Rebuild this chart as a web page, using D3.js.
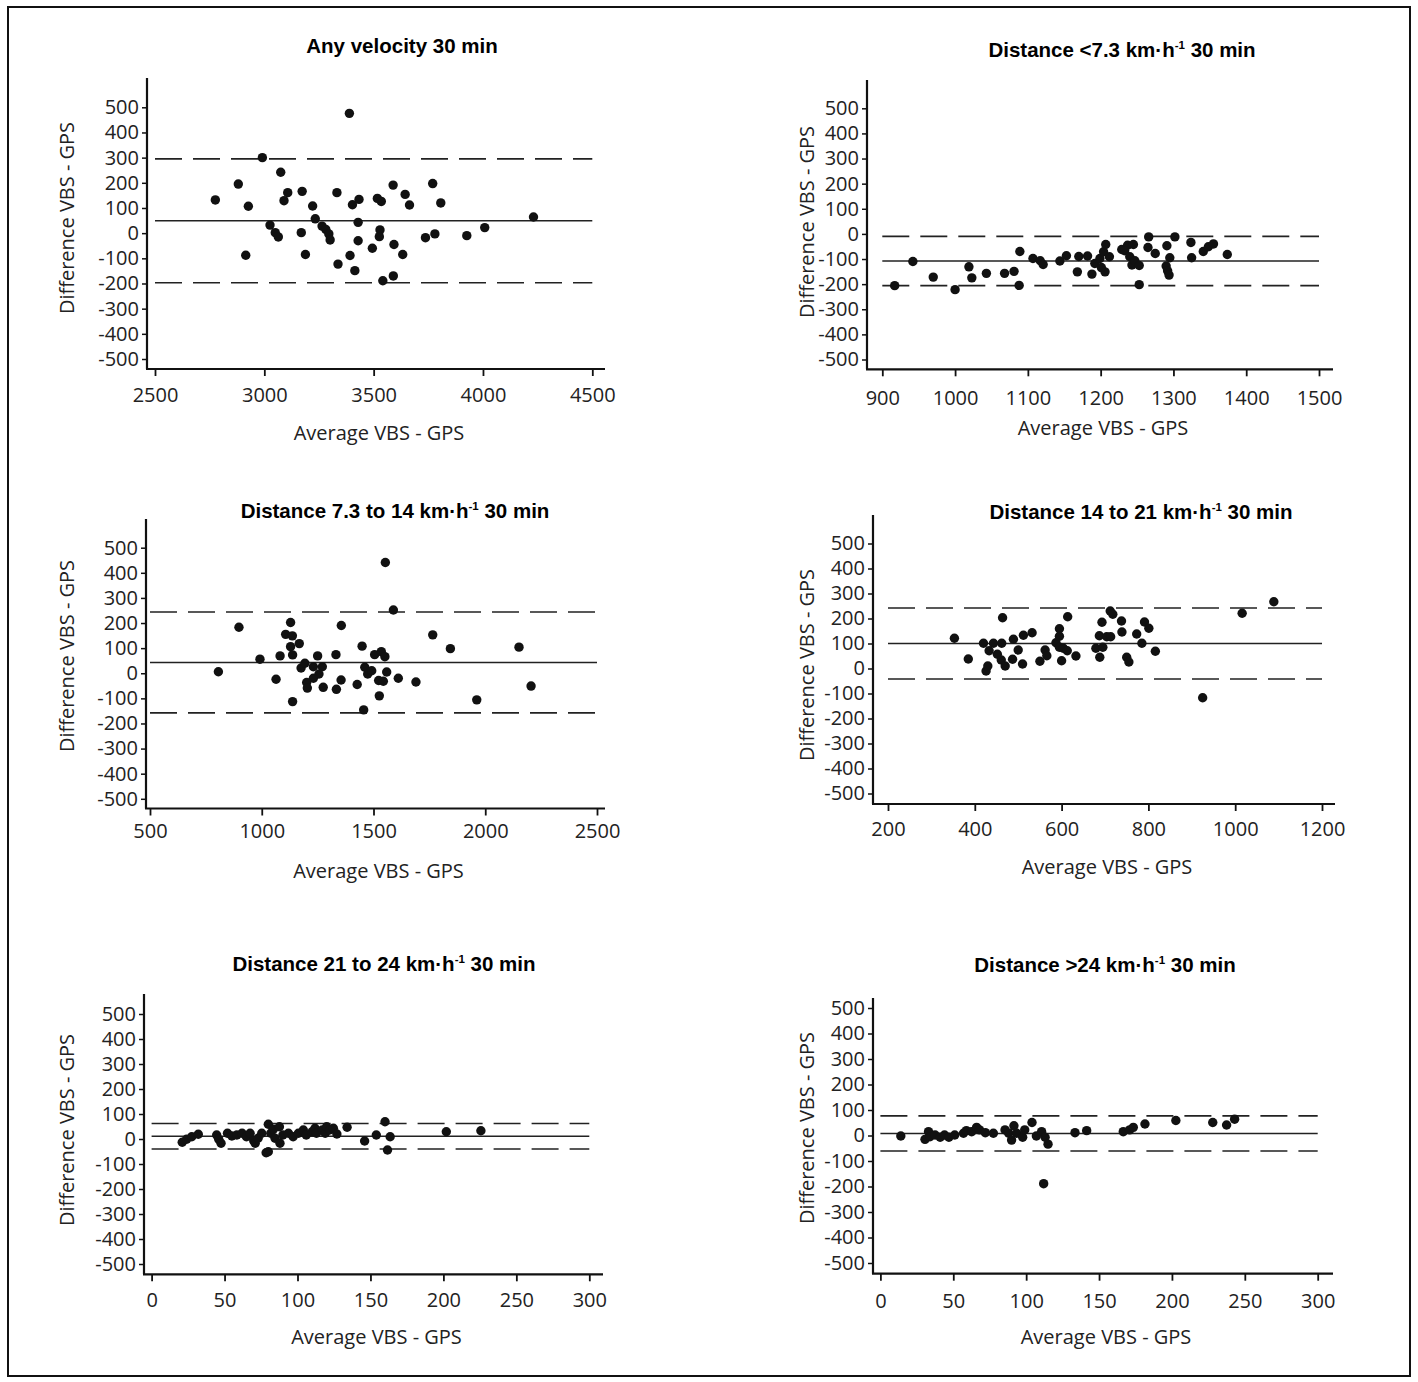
<!DOCTYPE html>
<html>
<head>
<meta charset="utf-8">
<script src="https://cdn.jsdelivr.net/npm/d3@7"></script>
<style>
  body { margin: 0; background: #fff; }
  svg { display: block; }
</style>
</head>
<body>
<svg id="fig" width="1418" height="1382"></svg>
<script>
// Bland–Altman plots: VBS vs GPS distance, six velocity bands, 30 min.

// Panel titles: [text, superscript, text after superscript]
const titleAny   = ["Any velocity 30 min", "", ""];
const titleBand1 = ["Distance <7.3 km\u00b7h", "-1", " 30 min"];
const titleBand2 = ["Distance 7.3 to 14 km\u00b7h", "-1", " 30 min"];
const titleBand3 = ["Distance 14 to 21 km\u00b7h", "-1", " 30 min"];
const titleBand4 = ["Distance 21 to 24 km\u00b7h", "-1", " 30 min"];
const titleBand5 = ["Distance >24 km\u00b7h", "-1", " 30 min"];

const xLabel = "Average VBS - GPS";
const yLabel = "Difference VBS - GPS";

// Tick values
const yTicks = [500, 400, 300, 200, 100, 0, -100, -200, -300, -400, -500];
const xTicksAny   = [2500, 3000, 3500, 4000, 4500];
const xTicksBand1 = [900, 1000, 1100, 1200, 1300, 1400, 1500];
const xTicksBand2 = [500, 1000, 1500, 2000, 2500];
const xTicksBand3 = [200, 400, 600, 800, 1000, 1200];
const xTicksBand4 = [0, 50, 100, 150, 200, 250, 300];
const xTicksBand5 = [0, 50, 100, 150, 200, 250, 300];

// Bias and 95% limits of agreement: [mean, upper, lower]
const limitsAny   = [49, 295, -197];
const limitsBand1 = [-108, -10, -206];
const limitsBand2 = [43, 244, -158];
const limitsBand3 = [100, 242, -42];
const limitsBand4 = [11, 62, -40];
const limitsBand5 = [8, 77, -61];

// Individual observations: [average, difference]
const pointsAny = [
  [3389,476],[2991,300],[3075,242],[2881,195],[2776,132],[2927,107],[3107,161],[3090,129],
  [3173,166],[3221,108],[3332,161],[3403,113],[3433,134],[3517,138],[3535,126],[3589,191],
  [3644,154],[3664,112],[3770,197],[3807,120],[4231,64],[3233,57],[3026,32],[3050,2],
  [3064,-15],[3169,2],[3264,28],[3281,15],[3295,-3],[3301,-27],[3429,43],[3429,-30],
  [3529,13],[3526,-14],[3494,-60],[3593,-45],[3633,-85],[3737,-18],[3780,-3],[3926,-10],
  [4008,22],[2915,-88],[3188,-85],[3337,-123],[3392,-89],[3414,-149],[3542,-189],[3590,-170]
];
const pointsBand1 = [
  [917,-206],[942,-110],[970,-172],[1000,-222],[1019,-131],[1023,-175],[1043,-157],[1068,-157],
  [1081,-149],[1089,-70],[1088,-205],[1107,-98],[1117,-107],[1121,-122],[1144,-108],[1153,-87],
  [1168,-151],[1170,-90],[1182,-88],[1188,-160],[1192,-118],[1199,-98],[1204,-71],[1207,-42],
  [1212,-91],[1206,-151],[1201,-134],[1229,-62],[1237,-45],[1245,-42],[1233,-67],[1240,-91],
  [1243,-124],[1247,-107],[1253,-126],[1253,-202],[1266,-12],[1265,-54],[1275,-78],[1291,-47],
  [1302,-12],[1295,-95],[1290,-128],[1292,-147],[1294,-164],[1324,-34],[1325,-95],[1341,-70],
  [1348,-51],[1355,-40],[1374,-82]
];
const pointsBand2 = [
  [1553,441],[1589,252],[898,183],[1356,190],[1129,202],[1107,155],[1137,149],[1168,118],
  [1129,106],[1138,73],[1082,69],[992,56],[1250,69],[1332,74],[1449,108],[1505,74],
  [1535,86],[1551,66],[1765,153],[1844,98],[2151,104],[806,6],[1064,-24],[1176,21],
  [1193,40],[1231,26],[1271,26],[1256,-3],[1231,-20],[1201,-37],[1204,-59],[1275,-56],
  [1334,-64],[1355,-27],[1427,-45],[1461,24],[1474,-3],[1492,10],[1559,5],[1523,-29],
  [1544,-32],[1611,-20],[1690,-35],[1526,-90],[1138,-113],[1456,-146],[1962,-106],[2205,-51]
];
const pointsBand3 = [
  [353,121],[385,38],[420,101],[433,71],[443,101],[452,57],[461,34],[426,-10],
  [430,10],[464,203],[462,101],[470,10],[487,37],[489,117],[500,74],[510,18],
  [512,133],[532,143],[550,29],[562,74],[566,51],[587,103],[595,159],[595,129],
  [595,85],[600,31],[604,81],[613,71],[614,207],[633,50],[679,81],[688,45],
  [687,131],[693,185],[695,85],[704,127],[713,127],[712,230],[718,217],[738,190],
  [739,146],[750,45],[755,26],[773,138],[785,101],[791,186],[801,161],[816,69],
  [925,-117],[1016,221],[1089,267]
];
const pointsBand4 = [
  [21,-13],[24,-1],[27.5,9],[32,19],[44.6,16],[46,-1],[47.6,-17],[52,23],
  [55,12],[58.4,16],[62,23],[65,9],[67.5,23],[70,-7],[71,-17],[73,3],
  [75.5,23],[78.5,-55],[80,-51],[80,59],[81.7,23],[83.5,39],[84.6,3],[87.6,49],
  [88,-17],[90,16],[93.8,23],[97,9],[100.6,23],[104,36],[106,16],[110,29],
  [112,43],[113,23],[117,36],[119,23],[120,49],[122,36],[124.6,43],[127,20],
  [134,47],[146,-8],[154,16],[160,69],[161.7,-44],[163.5,9],[202,29],[225.7,33]
];
const pointsBand5 = [
  [14,-2],[30.6,-15],[33,15],[34,-5],[37.5,2],[41,-7],[44,2],[47,-7],
  [51,2],[57,9],[59,19],[62.6,15],[66,32],[68,22],[72,11],[77.5,9],
  [85.5,22],[88,9],[90,-18],[91.6,38],[93.5,9],[97.6,-7],[99,22],[104,51],
  [107,-2],[110.6,15],[113,-7],[115,-34],[112,-189],[133.5,11],[141.5,19],[166.6,15],
  [171,22],[173.5,32],[181.5,45],[202.7,59],[228,51],[237.5,41],[243,64]
];

const panels = [
  { title: titleAny,   xTicks: xTicksAny,   limits: limitsAny,   points: pointsAny },
  { title: titleBand1, xTicks: xTicksBand1, limits: limitsBand1, points: pointsBand1 },
  { title: titleBand2, xTicks: xTicksBand2, limits: limitsBand2, points: pointsBand2 },
  { title: titleBand3, xTicks: xTicksBand3, limits: limitsBand3, points: pointsBand3 },
  { title: titleBand4, xTicks: xTicksBand4, limits: limitsBand4, points: pointsBand4 },
  { title: titleBand5, xTicks: xTicksBand5, limits: limitsBand5, points: pointsBand5 }
];

// Page layout of each panel (pixel frame of its axes)
const layout = [
  { left: 147, right: 605,  top: 78,  bottom: 369,  x0: 155,   x1: 592.3, yTop: 107.3, yBot: 359,
    titleX: 402,  titleY: 53,  yLabX: 67,  yLabY: 218,  tickY: 395,  xLabY: 433 },
  { left: 867, right: 1333, top: 80,  bottom: 369.3, x0: 882.3, x1: 1319, yTop: 108.3, yBot: 359.5,
    titleX: 1122, titleY: 57,  yLabX: 807, yLabY: 222,  tickY: 398,  xLabY: 428 },
  { left: 146, right: 605,  top: 519, bottom: 808.5, x0: 150,   x1: 597,  yTop: 547.7, yBot: 798.8,
    titleX: 395,  titleY: 518, yLabX: 67,  yLabY: 656,  tickY: 831,  xLabY: 871 },
  { left: 873, right: 1335, top: 515, bottom: 804,  x0: 888,   x1: 1322, yTop: 543.5, yBot: 793.5,
    titleX: 1141, titleY: 519, yLabX: 807, yLabY: 665,  tickY: 829,  xLabY: 867 },
  { left: 144, right: 603,  top: 994, bottom: 1274.3, x0: 151.6, x1: 589.3, yTop: 1014, yBot: 1264,
    titleX: 384,  titleY: 971, yLabX: 67,  yLabY: 1130, tickY: 1300, xLabY: 1337 },
  { left: 873, right: 1333, top: 998, bottom: 1273.7, x0: 880.4, x1: 1317.7, yTop: 1008, yBot: 1263,
    titleX: 1105, titleY: 972, yLabX: 807, yLabY: 1128, tickY: 1301, xLabY: 1337 }
];

const TICK_FONT = "'Open Sans', 'Liberation Sans', sans-serif";
const TITLE_FONT = "'Liberation Sans', Arial, sans-serif";
const LABEL_SIZE = 20;
const fmt = d => String(d);   // plain hyphen for negatives

const svg = d3.select("#fig");

// Outer frame
svg.append("rect")
  .attr("x", 8).attr("y", 7).attr("width", 1402).attr("height", 1369)
  .attr("fill", "none").attr("stroke", "#111").attr("stroke-width", 2);

panels.forEach((p, i) => {
  const L = layout[i];
  const g = svg.append("g");

  const x = d3.scaleLinear()
    .domain([p.xTicks[0], p.xTicks[p.xTicks.length - 1]])
    .range([L.x0, L.x1]);
  const y = d3.scaleLinear().domain([-500, 500]).range([L.yBot, L.yTop]);

  // Title with superscript unit
  const t = g.append("text")
    .attr("x", L.titleX).attr("y", L.titleY)
    .attr("text-anchor", "middle")
    .attr("font-family", TITLE_FONT).attr("font-weight", "bold")
    .attr("font-size", 20.5).attr("fill", "#000");
  t.append("tspan").text(p.title[0]);
  if (p.title[1]) {
    t.append("tspan").attr("font-size", 11.5).attr("dy", -8).text(p.title[1]);
    t.append("tspan").attr("dy", 8).text(p.title[2]);
  }

  // Reference lines: bias (solid) and limits of agreement (dashed)
  const xs = x.domain();
  const refLines = [
    { v: p.limits[0], dash: null },
    { v: p.limits[1], dash: "27,11" },
    { v: p.limits[2], dash: "27,11" }
  ];
  g.selectAll("line.ref").data(refLines).join("line")
    .attr("class", "ref")
    .attr("x1", x(xs[0])).attr("x2", x(xs[1]))
    .attr("y1", d => y(d.v)).attr("y2", d => y(d.v))
    .attr("stroke", "#222").attr("stroke-width", 1.6)
    .attr("stroke-dasharray", d => d.dash);

  // Observations
  g.selectAll("circle.pt").data(p.points).join("circle")
    .attr("class", "pt")
    .attr("cx", d => x(d[0])).attr("cy", d => y(d[1]))
    .attr("r", 4.7).attr("fill", "#111");

  // Y axis
  const yAxis = g.append("g")
    .attr("transform", `translate(${L.left},0)`)
    .call(d3.axisLeft(y).tickValues(yTicks).tickSize(5).tickPadding(3).tickFormat(fmt));
  yAxis.select(".domain").remove();
  yAxis.selectAll(".tick line").attr("stroke", "#111").attr("stroke-width", 1.5);
  yAxis.selectAll(".tick text")
    .attr("font-family", TICK_FONT).attr("font-size", LABEL_SIZE).attr("fill", "#222");
  g.append("line")
    .attr("x1", L.left).attr("x2", L.left).attr("y1", L.top).attr("y2", L.bottom)
    .attr("stroke", "#111").attr("stroke-width", 2.2);

  // X axis
  const xAxis = g.append("g")
    .attr("transform", `translate(0,${L.bottom})`)
    .call(d3.axisBottom(x).tickValues(p.xTicks).tickSize(7).tickFormat(fmt));
  xAxis.select(".domain").remove();
  xAxis.selectAll(".tick line").attr("stroke", "#111").attr("stroke-width", 1.8);
  xAxis.selectAll(".tick text")
    .attr("y", L.tickY - L.bottom).attr("dy", "0.35em")
    .attr("font-family", TICK_FONT).attr("font-size", LABEL_SIZE).attr("fill", "#222");
  g.append("line")
    .attr("x1", L.left - 1).attr("x2", L.right).attr("y1", L.bottom).attr("y2", L.bottom)
    .attr("stroke", "#111").attr("stroke-width", 2.2);

  // Axis titles
  g.append("text")
    .attr("x", (L.left + L.right) / 2 + 3).attr("y", L.xLabY).attr("dy", "0.35em")
    .attr("text-anchor", "middle")
    .attr("font-family", TICK_FONT).attr("font-size", LABEL_SIZE).attr("fill", "#222")
    .text(xLabel);
  g.append("text")
    .attr("transform", `translate(${L.yLabX},${L.yLabY}) rotate(-90)`)
    .attr("dy", "0.35em").attr("text-anchor", "middle")
    .attr("font-family", TICK_FONT).attr("font-size", LABEL_SIZE).attr("fill", "#222")
    .text(yLabel);
});
</script>
</body>
</html>
